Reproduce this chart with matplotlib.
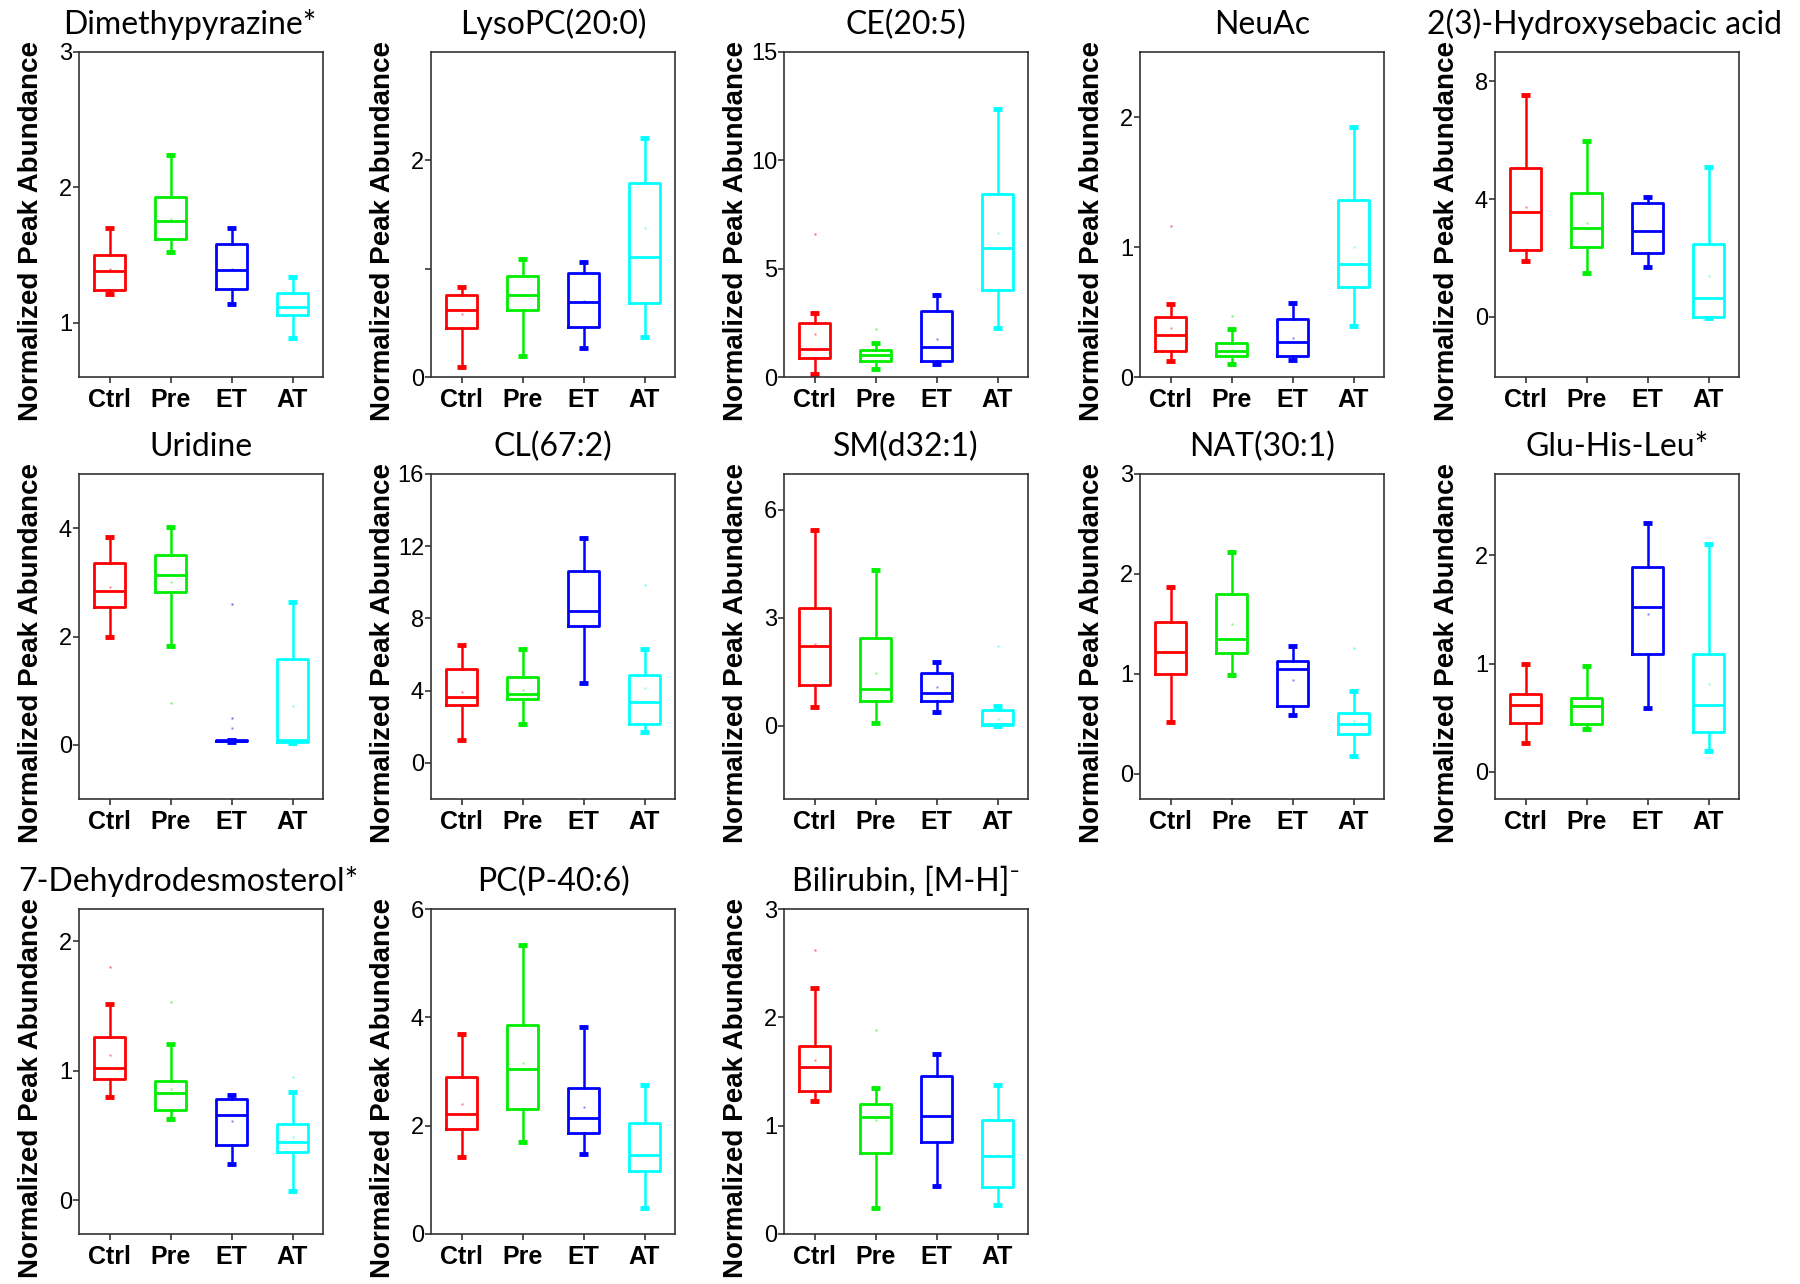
import numpy as np
import matplotlib
matplotlib.use("Agg")
import matplotlib.pyplot as plt

plt.rcParams['font.family'] = ['Liberation Sans', 'DejaVu Sans']

groups = ["Ctrl", "Pre", "ET", "AT"]
colors = ["#FF0000", "#00EE00", "#0000FF", "#00FFFF"]

titles = ["Dimethypyrazine*", "LysoPC(20:0)", "CE(20:5)", "NeuAc",
          "2(3)-Hydroxysebacic acid",
          "Uridine", "CL(67:2)", "SM(d32:1)", "NAT(30:1)", "Glu-His-Leu*",
          "7-Dehydrodesmosterol*", "PC(P-40:6)", "Bilirubin, [M-H]\u207b"]

# box statistics per panel, one value per group (Ctrl, Pre, ET, AT)
whis_lo = [[1.21, 1.52, 1.14, 0.89],
           [0.09, 0.19, 0.27, 0.37],
           [0.12, 0.35, 0.58, 2.28],
           [0.12, 0.10, 0.13, 0.39],
           [1.90, 1.50, 1.70, -0.05],
           [2.00, 1.83, 0.055, 0.03],
           [1.26, 2.17, 4.44, 1.70],
           [0.54, 0.07, 0.39, 0.00],
           [0.52, 0.99, 0.59, 0.18],
           [0.27, 0.40, 0.59, 0.19],
           [0.80, 0.63, 0.28, 0.07],
           [1.42, 1.69, 1.47, 0.48],
           [1.23, 0.24, 0.44, 0.27]]
q1 = [[1.24, 1.62, 1.25, 1.06],
      [0.45, 0.62, 0.46, 0.68],
      [0.89, 0.74, 0.74, 4.00],
      [0.20, 0.16, 0.16, 0.69],
      [2.27, 2.36, 2.16, 0.00],
      [2.54, 2.82, 0.065, 0.06],
      [3.19, 3.52, 7.56, 2.13],
      [1.13, 0.68, 0.68, 0.02],
      [1.00, 1.21, 0.68, 0.40],
      [0.45, 0.44, 1.09, 0.37],
      [0.94, 0.70, 0.43, 0.37],
      [1.94, 2.31, 1.86, 1.17],
      [1.32, 0.75, 0.85, 0.43]]
med = [[1.38, 1.75, 1.39, 1.12],
       [0.62, 0.76, 0.69, 1.11],
       [1.31, 1.02, 1.38, 5.94],
       [0.32, 0.20, 0.27, 0.87],
       [3.58, 3.01, 2.93, 0.66],
       [2.84, 3.13, 0.08, 0.09],
       [3.67, 3.83, 8.39, 3.37],
       [2.23, 1.04, 0.91, 0.05],
       [1.22, 1.35, 1.05, 0.50],
       [0.62, 0.61, 1.52, 0.62],
       [1.02, 0.83, 0.66, 0.45],
       [2.22, 3.04, 2.15, 1.45],
       [1.54, 1.08, 1.09, 0.72]]
q3 = [[1.50, 1.93, 1.58, 1.22],
      [0.76, 0.93, 0.96, 1.79],
      [2.51, 1.23, 3.05, 8.46],
      [0.46, 0.26, 0.45, 1.36],
      [5.05, 4.20, 3.86, 2.47],
      [3.35, 3.50, 0.09, 1.58],
      [5.22, 4.76, 10.65, 4.85],
      [3.27, 2.45, 1.47, 0.44],
      [1.52, 1.80, 1.13, 0.61],
      [0.72, 0.68, 1.89, 1.09],
      [1.26, 0.92, 0.78, 0.59],
      [2.89, 3.86, 2.70, 2.05],
      [1.74, 1.20, 1.46, 1.05]]
whis_hi = [[1.70, 2.24, 1.70, 1.34],
           [0.83, 1.09, 1.06, 2.21],
           [2.94, 1.55, 3.78, 12.38],
           [0.56, 0.37, 0.57, 1.92],
           [7.55, 5.99, 4.09, 5.11],
           [3.84, 4.02, 0.09, 2.64],
           [6.54, 6.33, 12.46, 6.30],
           [5.44, 4.33, 1.79, 0.56],
           [1.87, 2.22, 1.28, 0.83],
           [1.00, 0.98, 2.30, 2.10],
           [1.52, 1.21, 0.81, 0.84],
           [3.70, 5.33, 3.83, 2.75],
           [2.27, 1.35, 1.66, 1.38]]
means = [[1.40, 1.77, 1.40, 1.12],
         [0.58, 0.76, 0.70, 1.38],
         [1.97, 1.02, 1.74, 6.66],
         [0.38, 0.21, 0.30, 1.00],
         [3.75, 3.20, 2.93, 1.38],
         [2.92, 3.00, 0.32, 0.72],
         [3.93, 4.04, 8.39, 4.17],
         [2.28, 1.46, 1.07, 0.19],
         [1.22, 1.50, 0.94, 0.53],
         [0.62, 0.61, 1.46, 0.81],
         [1.12, 0.86, 0.61, 0.49],
         [2.40, 3.15, 2.35, 1.45],
         [1.61, 1.05, 1.09, 0.73]]
outliers = [[[], [], [], []],
            [[], [], [], []],
            [[6.58], [2.23], [], []],
            [[1.16], [0.47], [], []],
            [[], [], [], []],
            [[], [0.77], [2.60, 0.49], []],
            [[], [], [], [9.87]],
            [[], [], [], [2.21]],
            [[], [], [], [1.26]],
            [[], [], [], []],
            [[1.80], [1.53], [], [0.95]],
            [[], [], [], []],
            [[2.62], [1.88], [], []]]

y_limits = [(0.6, 3.0), (0, 3.0), (0, 15), (0, 2.5), (-2.04, 9.0),
            (-1, 5), (-2, 16), (-2.03, 7.0), (-0.25, 3), (-0.25, 2.75),
            (-0.26, 2.25), (0, 6), (0, 3)]
y_ticks = [[1, 2, 3], [0, 1, 2], [0, 5, 10, 15], [0, 1, 2], [0, 4, 8],
           [0, 2, 4], [0, 4, 8, 12, 16], [0, 3, 6], [0, 1, 2, 3], [0, 1, 2],
           [0, 1, 2], [0, 2, 4, 6], [0, 1, 2, 3]]
hidden_tick_labels = {1: [1]}
title_x = {0: 0.455, 4: 0.447, 10: 0.45}

# layout in pixels (figure 1800 x 1284)
W, H = 1800, 1284
col_left = [79, 431, 784, 1140, 1495]
row_bottom = [377, 799, 1234]
box_w, box_h = 244, 325

fig = plt.figure(figsize=(18, 12.84), dpi=100)

for i, title in enumerate(titles):
    r, c = divmod(i, 5)
    ax = fig.add_axes([col_left[c] / W, 1 - row_bottom[r] / H, box_w / W, box_h / H])

    for g in range(4):
        col = colors[g]
        st = dict(med=med[i][g], q1=q1[i][g], q3=q3[i][g],
                  whislo=whis_lo[i][g], whishi=whis_hi[i][g],
                  mean=means[i][g], fliers=outliers[i][g], label=groups[g])
        ax.bxp([st], positions=[g + 1], widths=0.52, showmeans=True,
               boxprops=dict(color=col, linewidth=2.0),
               medianprops=dict(color=col, linewidth=2.0),
               whiskerprops=dict(color=col, linewidth=1.8),
               capprops=dict(color=col, linewidth=3.5, solid_capstyle='butt'),
               capwidths=0.16,
               meanprops=dict(marker='s', markersize=1.5, markerfacecolor=col,
                              markeredgecolor='none', alpha=0.5),
               flierprops=dict(marker='s', markersize=1.8, markerfacecolor=col,
                               markeredgecolor='none', alpha=0.6),
               manage_ticks=False)

    ax.set_xlim(0.5, 4.5)
    ax.set_ylim(*y_limits[i])
    ax.set_xticks(range(1, 5))
    ax.set_xticklabels(groups, fontsize=18, fontweight='bold')
    ax.set_yticks(y_ticks[i])
    labels = []
    for t in y_ticks[i]:
        labels.append('' if t in hidden_tick_labels.get(i, []) else str(t))
    ax.set_yticklabels(labels, fontsize=17)
    ax.tick_params(axis='both', direction='out', length=4, width=1.2,
                   colors='#333333', labelcolor='black')
    ax.tick_params(axis='y', pad=1)
    ax.tick_params(axis='x', pad=4)
    for sp in ax.spines.values():
        sp.set_color('#333333')
        sp.set_linewidth(1.2)

    ax.set_ylabel("Normalized Peak Abundance", fontsize=20, fontweight='bold')
    ax.yaxis.set_label_coords(-0.143, 0.45)
    ax.set_title(title, fontsize=23, family=['Lato', 'DejaVu Sans'],
                 x=title_x.get(i, 0.5), pad=13)

fig.savefig("out.png", dpi=100)
